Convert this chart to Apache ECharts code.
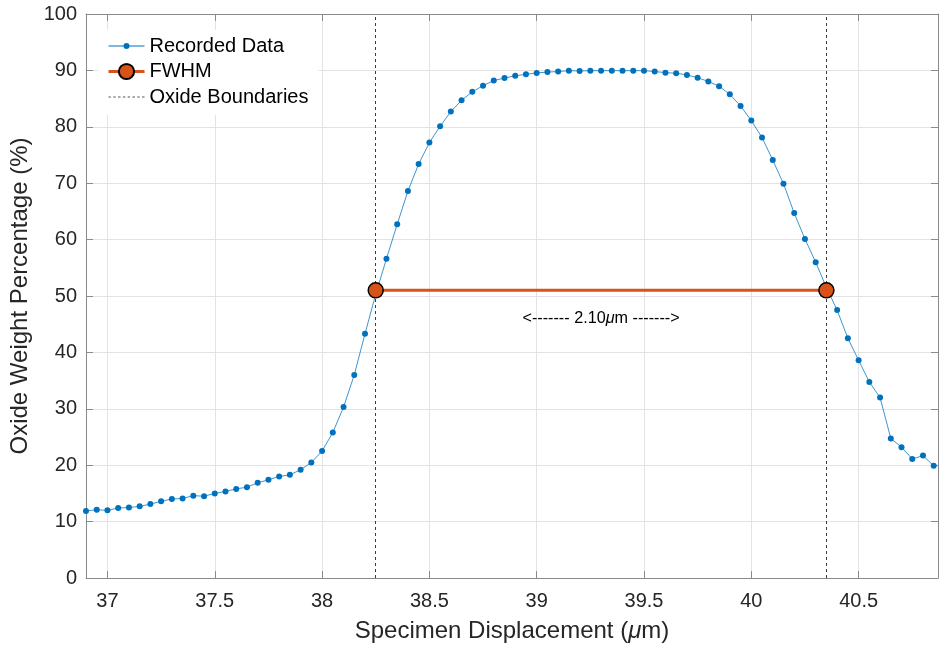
<!DOCTYPE html>
<html>
<head>
<meta charset="utf-8">
<script src="https://cdn.jsdelivr.net/npm/echarts@6/dist/echarts.min.js"></script>
<style>html,body{margin:0;padding:0;background:#fff}#c{width:939px;height:648px}</style>
</head>
<body>
<div id="c"></div>
<script>
// ---------- data ----------
const displacement = [
  36.90, 36.95, 37.00, 37.05, 37.10, 37.15, 37.20, 37.25, 37.30, 37.35,
  37.40, 37.45, 37.50, 37.55, 37.60, 37.65, 37.70, 37.75, 37.80, 37.85,
  37.90, 37.95, 38.00, 38.05, 38.10, 38.15, 38.20, 38.25, 38.30, 38.35,
  38.40, 38.45, 38.50, 38.55, 38.60, 38.65, 38.70, 38.75, 38.80, 38.85,
  38.90, 38.95, 39.00, 39.05, 39.10, 39.15, 39.20, 39.25, 39.30, 39.35,
  39.40, 39.45, 39.50, 39.55, 39.60, 39.65, 39.70, 39.75, 39.80, 39.85,
  39.90, 39.95, 40.00, 40.05, 40.10, 40.15, 40.20, 40.25, 40.30, 40.35,
  40.40, 40.45, 40.50, 40.55, 40.60, 40.65, 40.70, 40.75, 40.80, 40.85
];
const oxideWeight = [
  11.9, 12.1, 12.0, 12.4, 12.5, 12.7, 13.1, 13.6, 14.0, 14.1,
  14.6, 14.5, 15.0, 15.35, 15.8, 16.1, 16.9, 17.4, 18.0, 18.3,
  19.2, 20.5, 22.5, 25.8, 30.3, 36.0, 43.3, 50.3, 56.6, 62.7,
  68.6, 73.4, 77.2, 80.1, 82.7, 84.7, 86.2, 87.3, 88.2, 88.65,
  89.05, 89.3, 89.55, 89.7, 89.8, 89.95, 89.9, 89.95, 89.95, 89.95,
  89.95, 89.95, 89.95, 89.8, 89.6, 89.5, 89.2, 88.7, 88.05, 87.2,
  85.75, 83.7, 81.1, 78.1, 74.1, 69.9, 64.7, 60.1, 56.0, 51.5,
  47.5, 42.5, 38.6, 34.75, 32.0, 24.75, 23.2, 21.1, 21.7, 19.9
];
const boundaries = [38.25, 40.35];
const fwhmLevel = [51.0, 51.0];
const xTicks = [37, 37.5, 38, 38.5, 39, 39.5, 40, 40.5];
const xTickLabels = ['37', '37.5', '38', '38.5', '39', '39.5', '40', '40.5'];
const yTicks = [0, 10, 20, 30, 40, 50, 60, 70, 80, 90, 100];
const xRange = [36.9, 40.87];
const yRange = [0, 100];
const annotationLevel = 46.0;

// ---------- styles ----------
const FONT = "'Liberation Sans', Arial, Helvetica, sans-serif";
const TXT = '#262626';
const AX = '#8a8a8a';
const GRIDC = '#e3e3e3';
const BLUE = '#0072BD';
const ORANGE = '#D95319';

const chart = echarts.init(document.getElementById('c'), null, {renderer: 'canvas'});

const recorded = displacement.map((x, i) => [x, oxideWeight[i]]);
const fwhm = boundaries.map((x, i) => [x, fwhmLevel[i]]);

let dashPath = 'path://';
for (let k = 0; k < 8; k++) { const s = k * 4.6; dashPath += 'M' + s + ',0h2.3v1h-2.3z '; }
const recIcon = 'path://M0,3h36v1h-36z M21,3.5a3,3 0 1,1 -6,0a3,3 0 1,1 6,0z';

const baseX = {
  type: 'value', min: xRange[0], max: xRange[1],
  axisLine: {show: true, onZero: false, lineStyle: {color: AX, width: 1}},
  axisTick: {show: true, inside: true, length: 7, customValues: xTicks, lineStyle: {color: AX}},
  splitLine: {show: false}
};
const baseY = {
  type: 'value', min: yRange[0], max: yRange[1], interval: 10,
  axisLine: {show: true, onZero: false, lineStyle: {color: AX, width: 1}},
  axisTick: {show: true, inside: true, length: 7, lineStyle: {color: AX}},
  splitLine: {show: false}
};

chart.setOption({
  animation: false,
  backgroundColor: '#fff',
  textStyle: {fontFamily: FONT},
  grid: {left: 86, top: 14, width: 852, height: 564, containLabel: false},
  legend: {
    orient: 'vertical', left: 98, top: 30,
    backgroundColor: '#fff', padding: [6, 10, 8, 9],
    itemWidth: 36, itemHeight: 19, itemGap: 5.5,
    textStyle: {fontFamily: FONT, fontSize: 20, color: '#000'},
    data: [
      {name: 'Recorded Data', icon: recIcon, itemStyle: {color: BLUE}},
      {name: 'FWHM', lineStyle: {width: 3}},
      {name: 'Oxide Boundaries', icon: dashPath, itemStyle: {color: '#555'}}
    ]
  },
  xAxis: [
    Object.assign({}, baseX, {
      position: 'bottom',
      name: '{t|Specimen Displacement (}{i|\u03bc}{t|m)}',
      nameLocation: 'middle', nameGap: 41,
      nameTextStyle: {rich: {
        t: {fontFamily: FONT, fontSize: 24, color: TXT},
        i: {fontFamily: FONT, fontSize: 24, color: TXT, fontStyle: 'italic'}
      }},
      axisLabel: {show: true, customValues: xTicks, margin: 13, fontFamily: FONT, fontSize: 20, color: TXT,
        formatter: v => { const k = xTicks.indexOf(v); return k >= 0 ? xTickLabels[k] : ''; }},
      splitLine: {show: true, lineStyle: {color: GRIDC, width: 1}}
    }),
    Object.assign({}, baseX, {position: 'top', axisLabel: {show: false}})
  ],
  yAxis: [
    Object.assign({}, baseY, {
      position: 'left',
      name: 'Oxide Weight Percentage (%)',
      nameLocation: 'middle', nameGap: 51,
      nameTextStyle: {fontFamily: FONT, fontSize: 24, color: TXT},
      axisLabel: {show: true, margin: 9, fontFamily: FONT, fontSize: 20, color: TXT},
      splitLine: {show: true, lineStyle: {color: GRIDC, width: 1}}
    }),
    Object.assign({}, baseY, {position: 'right', axisLabel: {show: false}})
  ],
  series: [
    {
      name: 'Recorded Data', type: 'line', data: recorded,
      xAxisIndex: 0, yAxisIndex: 0,
      symbol: 'circle', symbolSize: 6, showAllSymbol: true,
      itemStyle: {color: BLUE},
      lineStyle: {color: BLUE, width: 1, opacity: 0.75},
      z: 2
    },
    {
      name: 'Oxide Boundaries', type: 'line', data: [],
      xAxisIndex: 0, yAxisIndex: 0,
      symbol: 'none',
      itemStyle: {color: '#555'},
      lineStyle: {color: '#555', width: 1, type: [3, 3]},
      markLine: {
        silent: true, symbol: 'none', animation: false,
        label: {show: false},
        lineStyle: {color: '#3a3a3a', width: 1, type: [3, 3]},
        emphasis: {disabled: true},
        data: boundaries.map(b => ({xAxis: b}))
      },
      z: 1
    },
    {
      name: 'FWHM', type: 'line', data: fwhm,
      xAxisIndex: 0, yAxisIndex: 0,
      symbol: 'circle', symbolSize: 15,
      itemStyle: {color: ORANGE, borderColor: '#000', borderWidth: 1.5},
      lineStyle: {color: ORANGE, width: 3},
      z: 5
    }
  ]
});

// annotation text between boundaries
const mid = (boundaries[0] + boundaries[1]) / 2;
const width = (boundaries[1] - boundaries[0]).toFixed(2);
const p = chart.convertToPixel({xAxisIndex: 0, yAxisIndex: 0}, [mid, annotationLevel]);
chart.setOption({
  graphic: [{
    type: 'text', x: p[0], y: p[1], z: 10,
    style: {
      text: '{a|<------- ' + width + '}{m|\u03bc}{a|m ------->}',
      align: 'center', verticalAlign: 'middle',
      rich: {
        a: {fontFamily: FONT, fontSize: 16.2, fill: '#000', color: '#000'},
        m: {fontFamily: FONT, fontSize: 16.2, fill: '#000', color: '#000', fontStyle: 'italic'}
      }
    }
  }]
});
</script>
</body>
</html>
